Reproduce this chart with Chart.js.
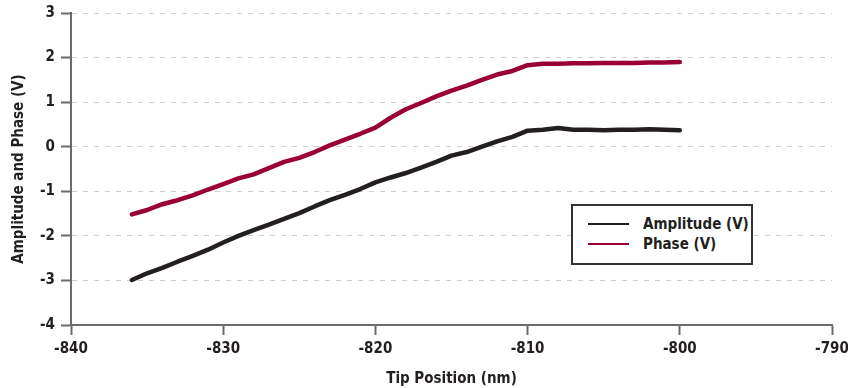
<!DOCTYPE html>
<html>
<head>
<meta charset="utf-8">
<script src="https://cdn.jsdelivr.net/npm/chart.js@4.4.0/dist/chart.umd.min.js"></script>
<style>
  html, body { margin: 0; padding: 0; background: #fff; }
  #wrap { position: relative; width: 848px; height: 388px; }
  #legend {
    position: absolute; left: 571px; top: 204px; width: 178px; height: 57px;
    border: 2px solid #333; background: #fff; box-sizing: content-box;
    font-family: 'Liberation Sans Narrow', 'DejaVu Sans Condensed', sans-serif;
    font-weight: bold; font-size: 15px; color: #231f20;
  }
  #legend .row { position: absolute; left: 0; height: 20px; line-height: 20px; }
  #legend .sw { position: absolute; left: 15px; width: 41px; height: 2px; }
  #legend .lb { position: absolute; left: 70px; white-space: nowrap; }
</style>
</head>
<body>
<div id="wrap">
  <canvas id="chart" width="848" height="388"></canvas>
  <div id="legend"></div>
</div>
<script>
// tip position (nm)
const tipPosition = [
  -836, -835, -834, -833, -832, -831, -830, -829, -828, -827,
  -826, -825, -824, -823, -822, -821, -820, -819, -818, -817,
  -816, -815, -814, -813, -812, -811, -810, -809, -808, -807,
  -806, -805, -804, -803, -802, -801, -800
]
const amplitude = [
  -2.99, -2.84, -2.72, -2.58, -2.45, -2.31, -2.15, -2.00, -1.87, -1.75,
  -1.62, -1.49, -1.34, -1.20, -1.08, -0.95, -0.80, -0.69, -0.59, -0.47,
  -0.34, -0.20, -0.12, 0.00, 0.12, 0.22, 0.36, 0.38, 0.42, 0.38,
  0.38, 0.37, 0.38, 0.38, 0.39, 0.38, 0.37
]
const phase = [
  -1.52, -1.42, -1.29, -1.20, -1.09, -0.96, -0.84, -0.71, -0.62, -0.48,
  -0.34, -0.25, -0.12, 0.03, 0.16, 0.29, 0.43, 0.65, 0.84, 0.98,
  1.13, 1.26, 1.37, 1.50, 1.62, 1.70, 1.83, 1.86, 1.86, 1.87,
  1.87, 1.88, 1.88, 1.88, 1.89, 1.89, 1.90
]
const seriesNames = ['Amplitude (V)', 'Phase (V)']
const seriesColors = ['#231f20', '#9b0033']

const FONT = "'Liberation Sans Narrow', 'DejaVu Sans Condensed', sans-serif"
const AXIS = '#6b6b6b'

const toPoints = (ys) => tipPosition.map((x, i) => ({ x: x, y: ys[i] }))

const legend = document.getElementById('legend')
seriesNames.forEach((name, i) => {
  const row = document.createElement('div')
  row.className = 'row'
  row.style.top = (8 + i * 20) + 'px'
  row.innerHTML = '<span class="sw" style="top:9px;background:' + seriesColors[i] + '"></span>' +
    '<span class="lb">' + name + '</span>'
  legend.appendChild(row)
})

new Chart(document.getElementById('chart').getContext('2d'), {
  type: 'scatter',
  data: {
    datasets: [
      { label: seriesNames[0], data: toPoints(amplitude), showLine: true, borderColor: seriesColors[0],
        borderWidth: 4.5, pointRadius: 0, tension: 0, borderCapStyle: 'round', borderJoinStyle: 'round' },
      { label: seriesNames[1], data: toPoints(phase), showLine: true, borderColor: seriesColors[1],
        borderWidth: 4.5, pointRadius: 0, tension: 0, borderCapStyle: 'round', borderJoinStyle: 'round' }
    ]
  },
  options: {
    responsive: false,
    animation: false,
    layout: { padding: { top: 13, right: 16, left: 0, bottom: 0 } },
    plugins: { legend: { display: false }, tooltip: { enabled: false } },
    scales: {
      x: {
        type: 'linear', min: -840, max: -790,
        ticks: { stepSize: 10, color: '#231f20', padding: 5, font: { family: FONT, size: 15, weight: 'bold' } },
        grid: { drawOnChartArea: false, drawTicks: true, tickLength: 10, tickColor: AXIS, tickWidth: 2 },
        border: { color: AXIS, width: 2 },
        title: { display: true, text: 'Tip Position (nm)', color: '#231f20', padding: { top: 6, bottom: 0 },
          font: { family: FONT, size: 15, weight: 'bold' } },
        afterFit: (s) => { s.height = 63; s.paddingRight = 0; s.paddingLeft = 0 }
      },
      y: {
        min: -4, max: 3,
        ticks: { stepSize: 1, color: '#231f20', padding: 6, font: { family: FONT, size: 15, weight: 'bold' } },
        grid: { color: '#cfcfcf', lineWidth: 1, tickLength: 10, tickColor: AXIS, tickWidth: 2 },
        border: { color: AXIS, width: 2, dash: [5, 6] },
        title: { display: true, text: 'Amplitude and Phase (V)', color: '#231f20', padding: { top: 10, bottom: 4 },
          font: { family: FONT, size: 15, weight: 'bold' } },
        afterFit: (s) => { s.width = 71; s.paddingTop = 0; s.paddingBottom = 0 }
      }
    }
  }
})
</script>
</body>
</html>
